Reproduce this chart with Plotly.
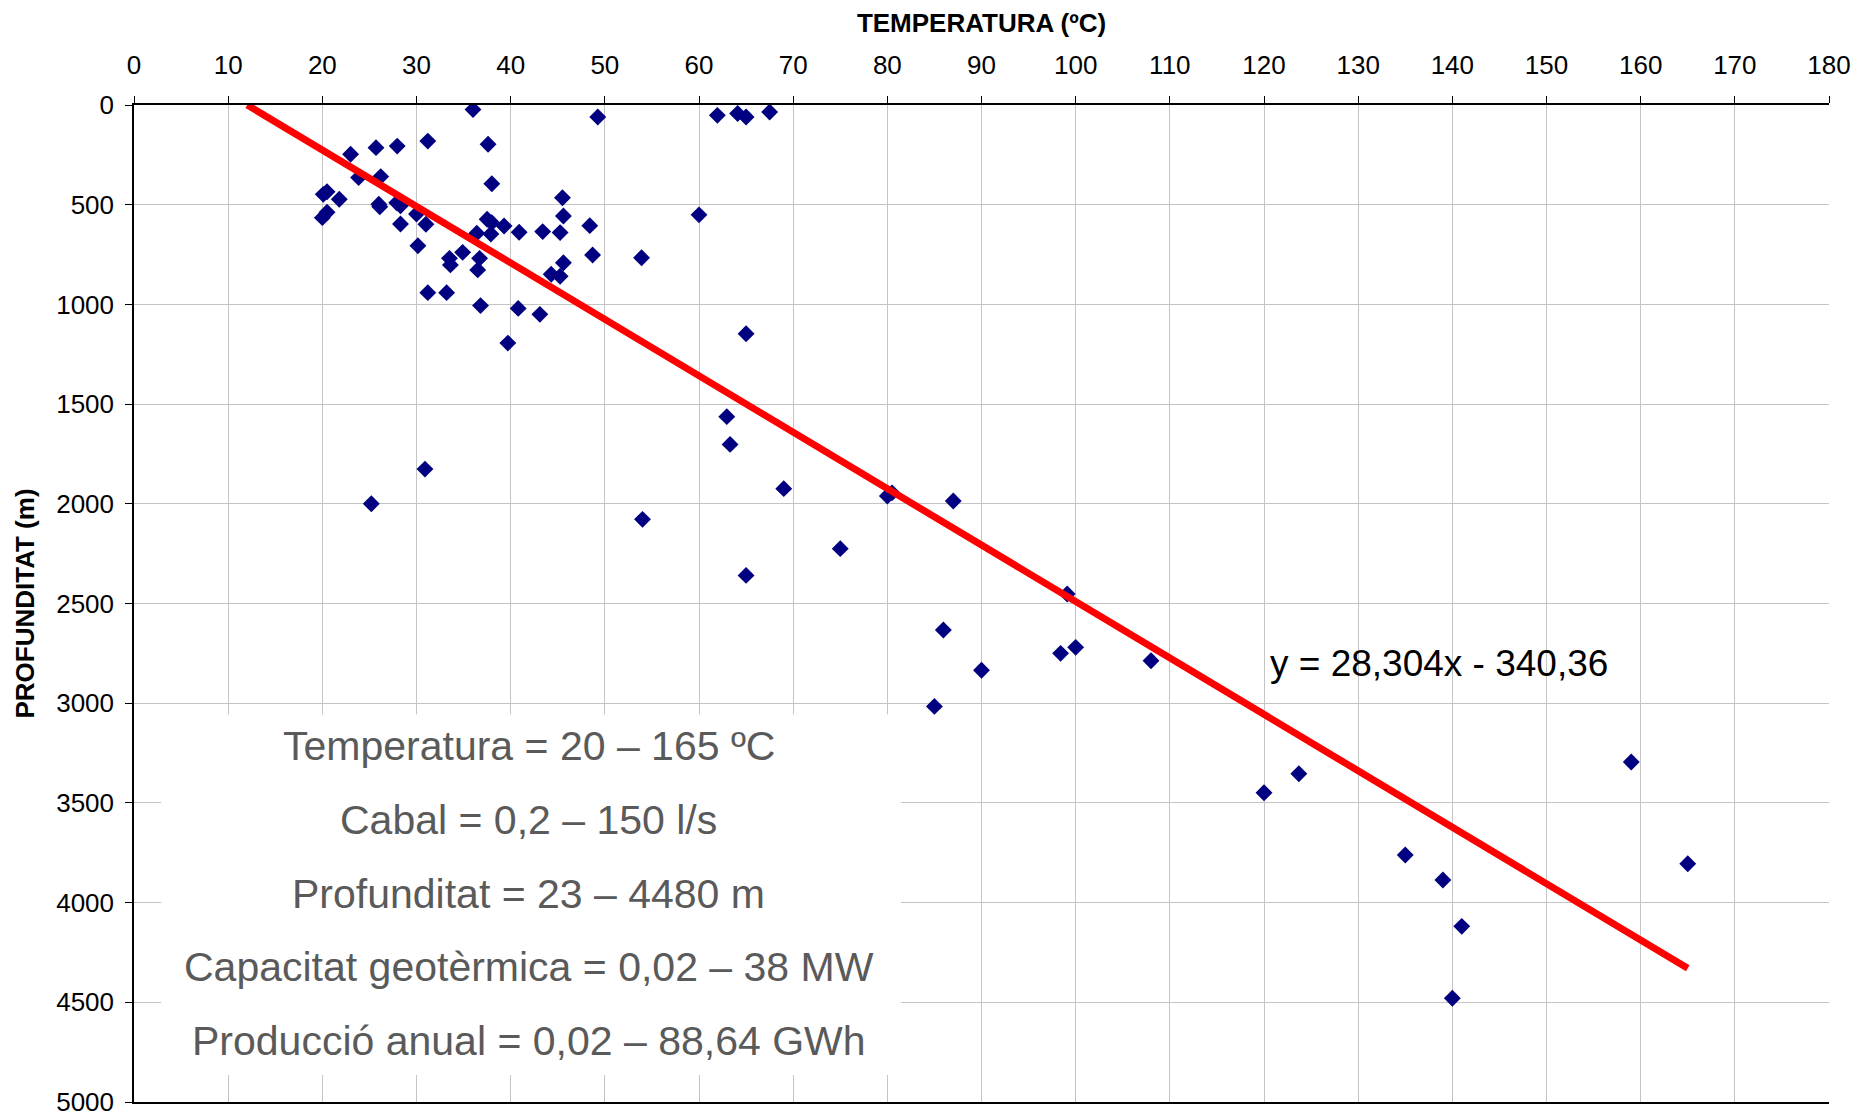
import plotly.graph_objects as go

# ---- data (temperature ºC, depth m) ----
temperatura = [36.0, 49.25, 61.95, 64.1, 65.0, 67.5,
               23.0, 25.7, 27.95, 31.2, 37.6, 23.85, 26.2, 38.0,
               20.1, 20.5, 21.8, 20.0, 20.5, 26.0, 26.1, 27.9, 28.3, 28.3,
               30.0, 31.0, 30.15, 31.2, 33.2, 33.5, 33.6, 34.9, 36.7, 36.5,
               36.8, 36.4, 37.5, 38.0, 37.9, 39.3, 40.9, 43.4, 45.25, 45.5,
               45.6, 48.4, 48.7, 45.6, 44.3, 45.25, 40.8, 43.1, 39.7, 53.9,
               60.0, 65.0, 62.95, 63.3, 30.9, 25.2, 54.0, 69.0, 75.0, 80.0,
               80.5, 87.0, 65.0, 99.1, 85.95, 90.0, 98.4, 100.0, 108.0, 85.0,
               120.0, 123.7, 135.0, 139.0, 141.0, 140.0, 159.0, 165.0]
profunditat = [23, 60, 52, 43, 60, 35,
               247, 214, 206, 181, 197, 364, 359, 395,
               448, 435, 473, 565, 538, 498, 510, 490, 505, 597,
               547, 598, 706, 941, 941, 769, 802, 739, 769, 827,
               1006, 643, 573, 590, 647, 607, 638, 635, 640, 465,
               557, 605, 752, 791, 849, 859, 1020, 1050, 1194, 766,
               551, 1147, 1563, 1702, 1826, 2000, 2078, 1924, 2225, 1961,
               1945, 1986, 2359, 2452, 2633, 2835, 2750, 2720, 2787, 3016,
               3449, 3354, 3761, 3887, 4119, 4480, 3295, 3805]

# trendline as shown in the chart: y = 28,304x - 340,36
slope = 28.304
intercept = -340.36
equation_label = "y = 28,304x - 340,36"

x_ticks = list(range(0, 181, 10))
y_ticks = list(range(0, 5001, 500))

info_lines = [
    "Temperatura = 20 – 165 ºC",
    "Cabal = 0,2 – 150 l/s",
    "Profunditat = 23 – 4480 m",
    "Capacitat geotèrmica = 0,02 – 38 MW",
    "Producció anual = 0,02 – 88,64 GWh",
]

FONT = "Arial, 'Liberation Sans', sans-serif"

fig = go.Figure()

fig.add_trace(go.Scatter(
    x=temperatura, y=profunditat, mode="markers",
    marker=dict(symbol="diamond", size=13, color="#000080", line=dict(width=0)),
    showlegend=False, hoverinfo="x+y"))

x_start = -intercept / slope
x_end = max(temperatura)
trend_x = [x_start, x_end]
trend_y = [slope * v + intercept for v in trend_x]
fig.add_trace(go.Scatter(
    x=trend_x, y=trend_y, mode="lines",
    line=dict(color="#ff0000", width=7), showlegend=False, hoverinfo="skip"))

# white text box
fig.add_shape(type="rect", xref="paper", yref="paper",
              x0=0.016, x1=0.4525, y0=0.027, y1=0.389,
              fillcolor="white", line=dict(width=0), layer="above")

line_y = [0.3568, 0.2826, 0.2084, 0.1352, 0.061]
for txt, yy in zip(info_lines, line_y):
    fig.add_annotation(text=txt, xref="paper", yref="paper",
                       x=0.233, y=yy, xanchor="center", yanchor="middle",
                       showarrow=False,
                       font=dict(family=FONT, size=41, color="#5a5a5a"))

fig.add_annotation(text=equation_label, x=138.6, y=2803, xref="x", yref="y",
                   xanchor="center", yanchor="middle", showarrow=False,
                   font=dict(family=FONT, size=37, color="black"))

fig.update_layout(
    width=1872, height=1113,
    margin=dict(l=126, r=51, t=97, b=19),
    paper_bgcolor="white", plot_bgcolor="white",
    font=dict(family=FONT, color="black"),
    xaxis=dict(
        side="top", range=[0, 180], tickvals=x_ticks, automargin=False,
        ticks="outside", ticklen=7, tickcolor="black", tickwidth=1,
        showline=True, linecolor="black", linewidth=1.5, mirror=True,
        showgrid=True, gridcolor="#c4c4c4", gridwidth=1, zeroline=False,
        tickfont=dict(family=FONT, size=26, color="black"),
        ticklabelstandoff=12, ticklabeloverflow="allow",
        title=dict(text="<b>TEMPERATURA (ºC)</b>", standoff=12,
                   font=dict(family=FONT, size=26, color="black")),
    ),
    yaxis=dict(
        autorange=False, range=[5000, 0], tickvals=y_ticks, automargin=False,
        ticks="outside", ticklen=7, tickcolor="black", tickwidth=1,
        showline=True, linecolor="black", linewidth=1.5,
        showgrid=True, gridcolor="#c4c4c4", gridwidth=1, zeroline=False,
        tickfont=dict(family=FONT, size=26, color="black"),
        ticklabelstandoff=6, ticklabeloverflow="allow",
        title=dict(text="<b>PROFUNDITAT (m)</b>", standoff=14,
                   font=dict(family=FONT, size=26, color="black")),
    ),
)

fig.write_html("out.html")
